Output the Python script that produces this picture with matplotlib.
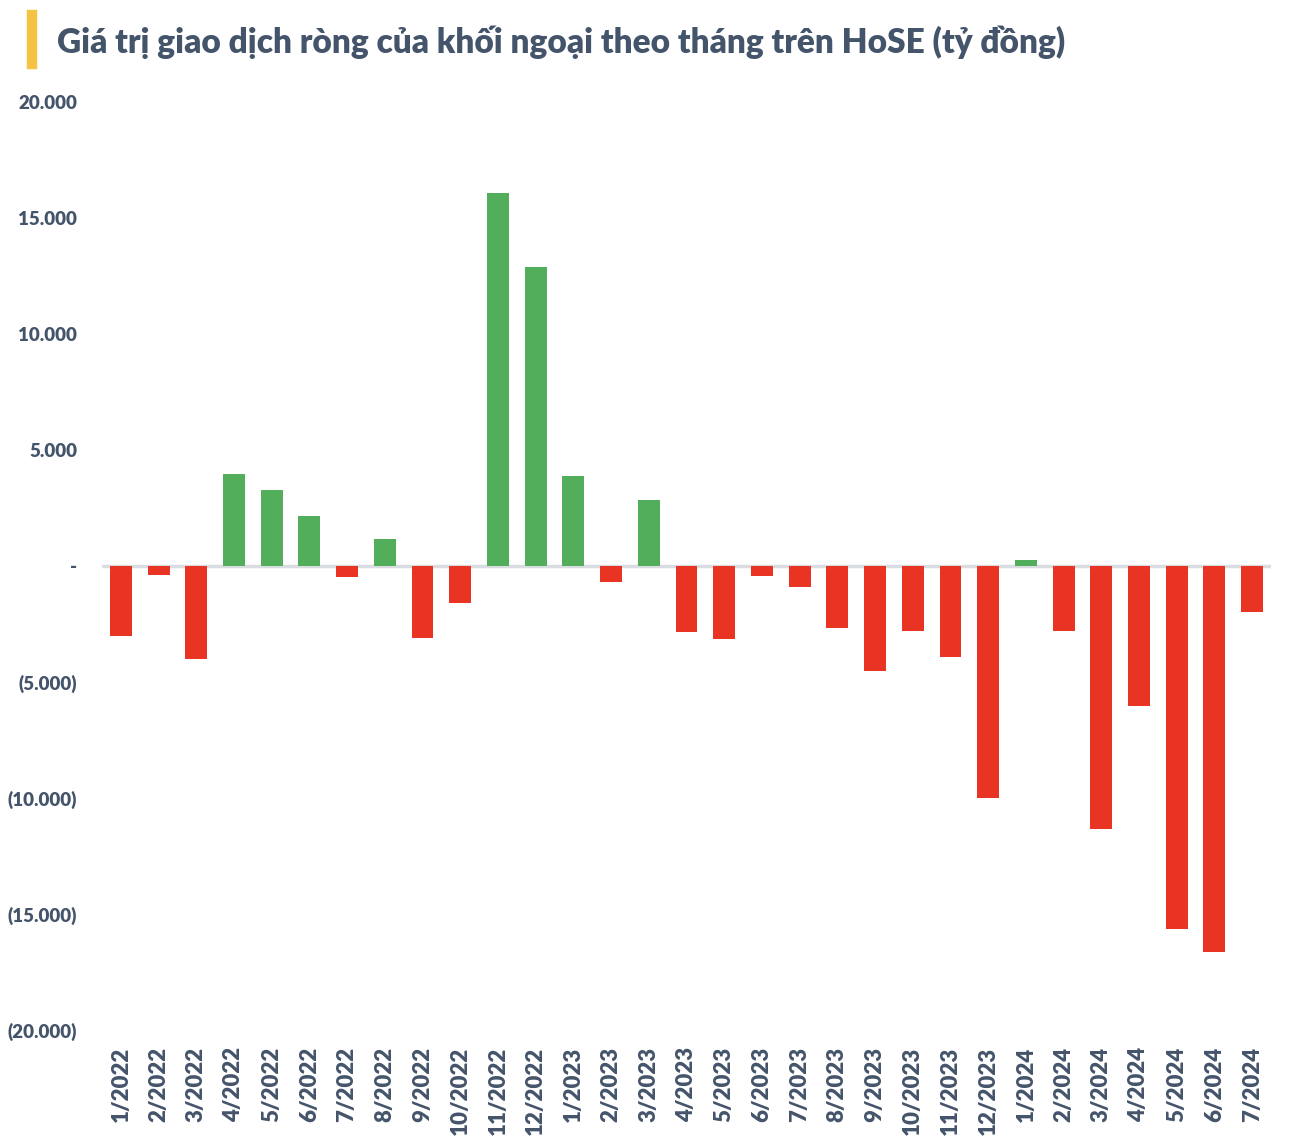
import matplotlib
matplotlib.use("Agg")
import matplotlib.pyplot as plt
from matplotlib.patches import Rectangle

months = ["1/2022", "2/2022", "3/2022", "4/2022", "5/2022", "6/2022", "7/2022", "8/2022",
          "9/2022", "10/2022", "11/2022", "12/2022", "1/2023", "2/2023", "3/2023", "4/2023",
          "5/2023", "6/2023", "7/2023", "8/2023", "9/2023", "10/2023", "11/2023", "12/2023",
          "1/2024", "2/2024", "3/2024", "4/2024", "5/2024", "6/2024", "7/2024"]
values = [-3000, -390, -4000, 3960, 3280, 2150, -470, 1160,
          -3100, -1600, 16080, 12890, 3880, -690, 2840, -2840,
          -3150, -430, -900, -2670, -4530, -2800, -3920, -10000,
          250, -2800, -11340, -6030, -15650, -16640, -1980]
yticks = [20000, 15000, 10000, 5000, 0, -5000, -10000, -15000, -20000]
ytick_labels = ["20.000", "15.000", "10.000", "5.000", "-", "(5.000)", "(10.000)", "(15.000)", "(20.000)"]
title = "Giá trị giao dịch ròng của khối ngoại theo tháng trên HoSE (tỷ đồng)"

GREEN = "#52AE5B"
RED = "#E93323"
TXT = "#44546A"
FONT = ["Lato", "DejaVu Sans"]

fig = plt.figure(figsize=(12.92, 11.46), dpi=100)
ax = fig.add_axes([102/1292, 1 - 1030/1146, (1271-102)/1292, (1030-102)/1146])

colors = [GREEN if v > 0 else RED for v in values]
x = list(range(len(values)))
ax.bar(x, values, width=0.58, color=colors, zorder=2)
ax.axhline(0, color="#D9DCE0", lw=2.5, zorder=1)

ax.set_xlim(-0.5, len(values) - 0.5)
ax.set_ylim(-20000, 20000)
ax.set_yticks(yticks)
ax.set_yticklabels(ytick_labels, fontsize=13.5, fontweight="heavy", color=TXT, family=FONT)
ax.set_xticks(x)
ax.set_xticklabels(months, rotation=90, fontsize=16, fontweight="heavy", color=TXT, family=FONT)
ax.tick_params(axis="both", length=0)
ax.tick_params(axis="y", pad=18)
ax.tick_params(axis="x", pad=12)
for s in ax.spines.values():
    s.set_visible(False)

fig.patches.append(Rectangle((27/1292, 1 - 68/1146), 9/1292, 58/1146,
                             transform=fig.transFigure, color="#F5C242"))
fig.text(57/1292, 1 - 42/1146, title, fontsize=24, fontweight="heavy", color=TXT,
         family=FONT, va="center", ha="left")

fig.savefig("out.png", dpi=100, facecolor="white")
